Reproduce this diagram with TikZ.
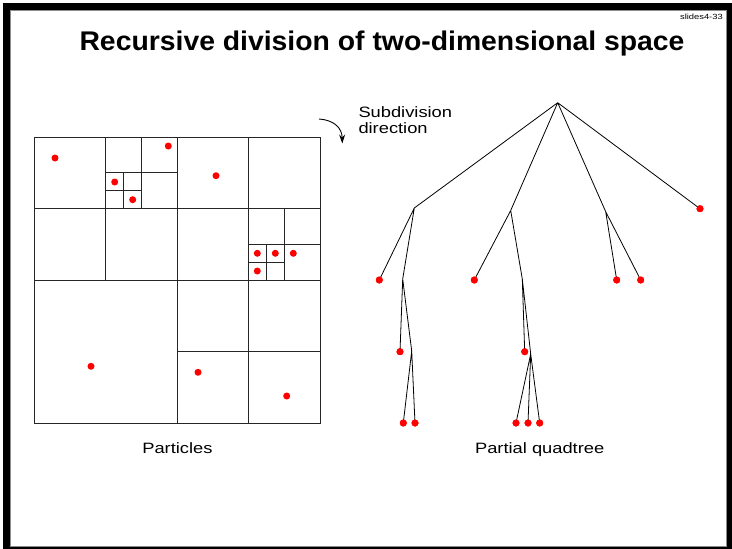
\documentclass[tikz,border=0pt]{standalone}
\usepackage{fontspec}
\setmainfont{Liberation Sans}
\usetikzlibrary{arrows.meta}
\tikzset{
  dot/.style={circle,fill=red,draw=none,inner sep=0pt,minimum size=7pt},
  gridline/.style={draw=black!85,line width=0.9pt},
  edge/.style={draw=black,line width=0.8pt},
  lbl/.style={inner sep=0pt,anchor=base,font=\fontsize{15}{16}\selectfont},
}
\begin{document}
\begin{tikzpicture}[x=1pt,y=-1pt]
\useasboundingbox (0,0) rectangle (732,549);
% frame
\fill[black] (3,3) rectangle (732,549);
\fill[white] (9.5,9.5) rectangle (727,546.5);
\draw[black!45,line width=0.6pt] (9.8,9.8) rectangle (726.7,546.2);
% title
\node[inner sep=0pt,anchor=base,font=\fontsize{27}{30}\selectfont\bfseries] (title) at (382,50) {\scalebox{1.05}[1]{Recursive division of two-dimensional space}};
\node[inner sep=0pt,anchor=base east,font=\fontsize{7.5}{8}\selectfont] (slide) at (723,19) {\scalebox{1.25}[1]{slides4-33}};
% grid
\draw[gridline] (34,137) rectangle (320,423);
\draw[gridline] (177,137) -- (177,423);
\draw[gridline] (34,280) -- (320,280);
\draw[gridline] (34,208.5) -- (320,208.5);
\draw[gridline] (105.5,137) -- (105.5,280);
\draw[gridline] (248.5,137) -- (248.5,423);
\draw[gridline] (177,351.5) -- (320,351.5);
% top-left quadrant, TR subdivided
\draw[gridline] (141.25,137) -- (141.25,208.5);
\draw[gridline] (105.5,172.75) -- (177,172.75);
\draw[gridline] (123.4,172.75) -- (123.4,208.5);
\draw[gridline] (105.5,190.6) -- (141.25,190.6);
% top-right quadrant, BR subdivided
\draw[gridline] (284.25,208.5) -- (284.25,280);
\draw[gridline] (248.5,244.25) -- (320,244.25);
\draw[gridline] (266.4,244.25) -- (266.4,280);
\draw[gridline] (248.5,262.1) -- (284.25,262.1);
% particles
\node[dot] (g1) at (55,158) {};
\node[dot] (g2) at (168.3,146) {};
\node[dot] (g3) at (114.7,182) {};
\node[dot] (g4) at (132.7,199.7) {};
\node[dot] (g5) at (216,175.7) {};
\node[dot] (g6) at (257.3,253.3) {};
\node[dot] (g7) at (275.3,253.3) {};
\node[dot] (g8) at (293.3,253.3) {};
\node[dot] (g9) at (257.3,271) {};
\node[dot] (g10) at (91,366.3) {};
\node[dot] (g11) at (198,372.3) {};
\node[dot] (g12) at (286.7,396) {};
\node[lbl] (plab) at (177.4,453.3) {\scalebox{1.22}[1]{Particles}};
% subdivision direction
\coordinate (as) at (319,119);
\coordinate (ae) at (342.3,143.5);
\draw[line width=0.9pt,-{Stealth[length=9pt,width=6pt]}] (as) .. controls (334,120) and (342,128) .. (ae);
\node[lbl,anchor=base west] (sd1) at (358.3,117.3) {\scalebox{1.22}[1]{Subdivision}};
\node[lbl,anchor=base west] (sd2) at (358.3,133.3) {\scalebox{1.22}[1]{direction}};
% tree
\coordinate (root) at (557.7,102.7);
\coordinate (c1) at (414.3,208);
\coordinate (c2) at (510.7,210.5);
\coordinate (c3) at (605.7,211.7);
\node[dot] (c4) at (700,208.7) {};
\node[dot] (l11) at (379.3,280) {};
\coordinate (c12) at (402.7,279);
\node[dot] (l121) at (400,351.7) {};
\coordinate (c122) at (411.7,351);
\node[dot] (l1221) at (403.3,423) {};
\node[dot] (l1222) at (415,423) {};
\node[dot] (l21) at (474.3,280) {};
\coordinate (c22) at (522.3,279);
\node[dot] (l221) at (524.7,351.7) {};
\coordinate (c222) at (530.7,354);
\node[dot] (l2221) at (516,423) {};
\node[dot] (l2222) at (528,423) {};
\node[dot] (l2223) at (539.7,423) {};
\node[dot] (l31) at (616.7,280) {};
\node[dot] (l32) at (640.7,280) {};
\draw[edge] (root) -- (c1) (root) -- (c2) (root) -- (c3) (root) -- (c4.center);
\draw[edge] (c1) -- (l11.center) (c1) -- (c12);
\draw[edge] (c12) -- (l121.center) (c12) -- (c122);
\draw[edge] (c122) -- (l1221.center) (c122) -- (l1222.center);
\draw[edge] (c2) -- (l21.center) (c2) -- (c22);
\draw[edge] (c22) -- (l221.center) (c22) -- (c222);
\draw[edge] (c222) -- (l2221.center) (c222) -- (l2222.center) (c222) -- (l2223.center);
\draw[edge] (c3) -- (l31.center) (c3) -- (l32.center);
\foreach \n in {c4,l11,l121,l1221,l1222,l21,l221,l2221,l2222,l2223,l31,l32}{\fill[red] (\n) circle (3.5pt);}
\node[lbl] (qlab) at (539.7,453.3) {\scalebox{1.22}[1]{Partial quadtree}};
\end{tikzpicture}
\end{document}
